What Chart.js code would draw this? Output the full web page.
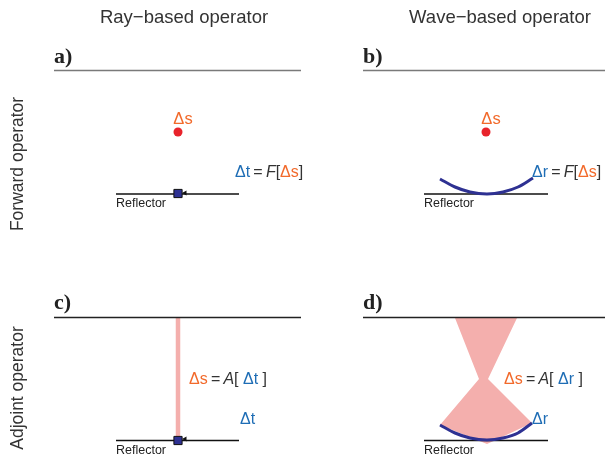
<!DOCTYPE html>
<html>
<head>
<meta charset="utf-8">
<script src="https://cdn.jsdelivr.net/npm/chart.js@4.4.1/dist/chart.umd.min.js"></script>
<style>
html,body{margin:0;padding:0;background:#fff;}
#c{display:block;}
</style>
</head>
<body>
<canvas id="c" width="605" height="463"></canvas>
<script>
// ---- geometry (diagram coordinates, y downwards) ----
const topLineA = [{x:54,y:70.5},{x:301,y:70.5}];
const topLineB = [{x:363,y:70.5},{x:605,y:70.5}];
const topLineC = [{x:54,y:317.5},{x:301,y:317.5}];
const topLineD = [{x:363,y:317.5},{x:605,y:317.5}];
const reflA = [{x:116,y:194},{x:239,y:194}];
const reflB = [{x:424,y:194},{x:548,y:194}];
const reflC = [{x:116,y:440.5},{x:239,y:440.5}];
const reflD = [{x:424,y:440.5},{x:548,y:440.5}];
const sourcePoints = [{x:178,y:132},{x:486,y:132}];
const receiverPoints = [{x:178,y:193.5},{x:178,y:440.5}];
const arrowPoints = [{x:185,y:193},{x:185,y:439}];
const wavefrontB = [{x:440,y:179},{x:455,y:187},{x:470,y:192},{x:487,y:194},{x:503,y:192},{x:518,y:187},{x:533,y:178}];
const wavefrontD = [{x:440,y:425},{x:455,y:433},{x:470,y:438},{x:487,y:440},{x:503,y:438},{x:518,y:433},{x:532,y:423}];
const rayC = [{x:178,y:318},{x:178,y:440}];
const hourglassD = [{x:455,y:318},{x:517,y:318},{x:488,y:379},{x:532,y:423},{x:487,y:444},{x:440,y:425},{x:479,y:379},{x:455,y:318}];

const ORANGE = '#f26a2b', BLUE = '#1e6db5', DARK = '#333333', NAVY = '#2e3192', PINK = '#f4afad';
const SANS = '"Liberation Sans", Arial, sans-serif';
const SERIF = '"Liberation Serif", "Times New Roman", serif';
const TS = '\u2009';

const texts = [
  {x:184, y:18, size:18.5, font:SANS, align:'center', parts:[['Ray\u2212based operator',DARK,'']]},
  {x:500, y:18, size:18.5, font:SANS, align:'center', parts:[['Wave\u2212based operator',DARK,'']]},
  {x:18, y:164, size:17.5, font:SANS, align:'center', rot:-Math.PI/2, parts:[['Forward operator',DARK,'']]},
  {x:18, y:388, size:17.5, font:SANS, align:'center', rot:-Math.PI/2, parts:[['Adjoint operator',DARK,'']]},
  {x:54, y:57.5, size:22, font:SERIF, align:'left', parts:[['a)','#222','bold']]},
  {x:363, y:57.5, size:22, font:SERIF, align:'left', parts:[['b)','#222','bold']]},
  {x:54, y:303.5, size:22, font:SERIF, align:'left', parts:[['c)','#222','bold']]},
  {x:363, y:303.5, size:22, font:SERIF, align:'left', parts:[['d)','#222','bold']]},
  {x:183, y:119, size:16.5, font:SANS, align:'center', parts:[['\u0394s',ORANGE,'']]},
  {x:491, y:119, size:16.5, font:SANS, align:'center', parts:[['\u0394s',ORANGE,'']]},
  {x:235, y:173, size:16, font:SANS, align:'left', parts:[['\u0394t',BLUE,''],[TS+'='+TS,DARK,''],['F',DARK,'italic'],['[',DARK,''],['\u0394s',ORANGE,''],[']',DARK,'']]},
  {x:532, y:173, size:16, font:SANS, align:'left', parts:[['\u0394r',BLUE,''],[TS+'='+TS,DARK,''],['F',DARK,'italic'],['[',DARK,''],['\u0394s',ORANGE,''],[']',DARK,'']]},
  {x:189, y:380, size:16, font:SANS, align:'left', parts:[['\u0394s',ORANGE,''],[TS+'='+TS,DARK,''],['A',DARK,'italic'],['[ ',DARK,''],['\u0394t',BLUE,''],[' ]',DARK,'']]},
  {x:504, y:380, size:16, font:SANS, align:'left', parts:[['\u0394s',ORANGE,''],[TS+'='+TS,DARK,''],['A',DARK,'italic'],['[ ',DARK,''],['\u0394r',BLUE,''],[' ]',DARK,'']]},
  {x:240, y:420, size:16, font:SANS, align:'left', parts:[['\u0394t',BLUE,'']]},
  {x:532, y:420, size:16, font:SANS, align:'left', parts:[['\u0394r',BLUE,'']]},
  {x:116, y:204, size:12.5, font:SANS, align:'left', parts:[['Reflector','#222','']]},
  {x:424, y:204, size:12.5, font:SANS, align:'left', parts:[['Reflector','#222','']]},
  {x:116, y:451, size:12.5, font:SANS, align:'left', parts:[['Reflector','#222','']]},
  {x:424, y:451, size:12.5, font:SANS, align:'left', parts:[['Reflector','#222','']]}
];

const textPlugin = {
  id:'diagramText',
  afterDatasetsDraw(chart){
    const ctx = chart.ctx, xs = chart.scales.x, ys = chart.scales.y;
    texts.forEach(t=>{
      const px = xs.getPixelForValue(t.x), py = ys.getPixelForValue(t.y);
      ctx.save();
      ctx.translate(px, py);
      if (t.rot) ctx.rotate(t.rot);
      ctx.textBaseline = 'middle';
      ctx.textAlign = 'left';
      let total = 0;
      const widths = t.parts.map(p=>{ ctx.font = (p[2]?p[2]+' ':'') + t.size + 'px ' + t.font; const w = ctx.measureText(p[0]).width; total += w; return w; });
      let cx = t.align==='center' ? -total/2 : 0;
      t.parts.forEach((p,i)=>{
        ctx.font = (p[2]?p[2]+' ':'') + t.size + 'px ' + t.font;
        ctx.fillStyle = p[1];
        ctx.fillText(p[0], cx, 0);
        cx += widths[i];
      });
      ctx.restore();
    });
  }
};

function lineDs(data, color, width, order){
  return {type:'line', data, borderColor:color, borderWidth:width, pointRadius:0, fill:false, tension:0, order};
}

const datasets = [
  {type:'line', data:hourglassD, borderWidth:0, borderColor:PINK, backgroundColor:PINK, fill:'shape', pointRadius:0, tension:0, order:10},
  lineDs(rayC, PINK, 4.5, 9),
  lineDs(topLineA, '#7a7a7a', 1.6, 5),
  lineDs(topLineB, '#7a7a7a', 1.6, 5),
  lineDs(topLineC, '#222', 1.3, 5),
  lineDs(topLineD, '#222', 1.3, 5),
  lineDs(reflA, '#111', 1.4, 5),
  lineDs(reflB, '#111', 1.4, 5),
  lineDs(reflC, '#111', 1.4, 5),
  lineDs(reflD, '#111', 1.4, 5),
  {type:'line', data:wavefrontB, borderColor:NAVY, borderWidth:3, pointRadius:0, fill:false, tension:0.4, cubicInterpolationMode:'monotone', order:3},
  {type:'line', data:wavefrontD, borderColor:NAVY, borderWidth:3, pointRadius:0, fill:false, tension:0.4, cubicInterpolationMode:'monotone', order:3},
  {type:'scatter', data:sourcePoints, pointStyle:'circle', pointRadius:4.5, backgroundColor:'#e8232b', borderColor:'#e8232b', borderWidth:0, order:2},
  {type:'scatter', data:arrowPoints, pointStyle:'triangle', rotation:-90, pointRadius:3, backgroundColor:'#111', borderColor:'#111', borderWidth:0, order:2},
  {type:'scatter', data:receiverPoints, pointStyle:'rect', pointRadius:5.8, backgroundColor:'#2e3192', borderColor:'#111', borderWidth:1, order:1}
];

new Chart(document.getElementById('c'), {
  data:{datasets},
  options:{
    responsive:false, animation:false, devicePixelRatio:1,
    layout:{padding:0, autoPadding:false},
    plugins:{legend:{display:false}, tooltip:{enabled:false}, title:{display:false}},
    events:[],
    scales:{
      x:{type:'linear', min:0, max:605, display:false},
      y:{type:'linear', min:0, max:463, reverse:true, display:false}
    }
  },
  plugins:[textPlugin]
});
</script>
</body>
</html>
